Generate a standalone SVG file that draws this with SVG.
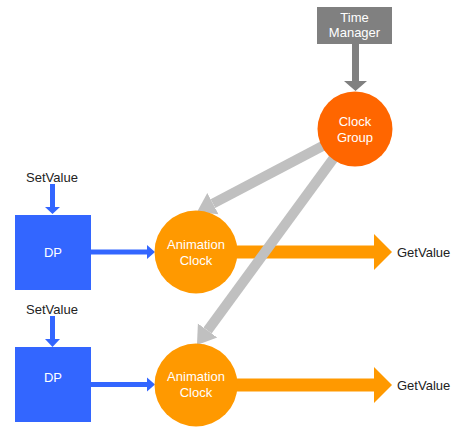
<svg xmlns="http://www.w3.org/2000/svg" width="466" height="430" viewBox="0 0 466 430">
<style>
text{font-family:"Liberation Sans",Arial,sans-serif;font-size:13px;text-anchor:middle}
.w{fill:#ffffff}
.k{fill:#222222}
.gv{text-anchor:start}
.dp{fill:#3366ff}
.ac{fill:#ff9900}
</style>
<defs>
<marker id="gh" markerUnits="userSpaceOnUse" markerWidth="20" markerHeight="26" viewBox="0 -13 20 26" refX="0" refY="0" orient="auto">
<path d="M0,-12 L18,0 L0,12 z" fill="#c0c0c0"/>
</marker>
</defs>
<g id="connectors">
<!-- Time Manager to Clock Group -->
<path d="M352,44 H359 V81 H367 L355.5,91 L344,81 H352 z" fill="#808080"/>
<!-- SetValue arrows -->
<path d="M50,184 H55 V207 H60 L52.5,214 L45,207 H50 z" fill="#3366ff"/>
<path d="M50,316 H55 V339 H60 L52.5,347 L45,339 H50 z" fill="#3366ff"/>
<!-- DP to Animation Clock -->
<path d="M91,249.5 H147 V245 L155,252 L147,259 V254.5 H91 z" fill="#3366ff"/>
<path d="M91,382 H147 V377.5 L155,384.5 L147,391.5 V387 H91 z" fill="#3366ff"/>
<!-- Animation Clock to GetValue -->
<path d="M230,245.5 H374 V234 L392,252 L374,270 V258.5 H230 z" fill="#ff9900"/>
<path d="M230,378.5 H374 V367 L392,385 L374,403 V391.5 H230 z" fill="#ff9900"/>
<!-- Clock Group to Animation Clocks -->
<line x1="355" y1="129" x2="212.9" y2="203.6" stroke="#c0c0c0" stroke-width="10" marker-end="url(#gh)"/>
<line x1="355" y1="129" x2="207.6" y2="330.5" stroke="#c0c0c0" stroke-width="10" marker-end="url(#gh)"/>
</g>
<g id="time-manager">
<rect x="317" y="7" width="75" height="37" fill="#808080"/>
<text class="w" x="354.5" y="21.5">Time</text>
<text class="w" x="354.5" y="37">Manager</text>
</g>
<g id="clock-group">
<circle cx="355" cy="129" r="37.5" fill="#ff6600"/>
<text class="w" x="355" y="125.5">Clock</text>
<text class="w" x="355" y="141.5">Group</text>
</g>
<g id="setvalue-1"><text class="k" x="52" y="181.5">SetValue</text></g>
<g id="setvalue-2"><text class="k" x="52" y="313.5">SetValue</text></g>
<g id="dp-1">
<rect class="dp" x="15" y="215" width="76" height="75"/>
<text class="w" x="53" y="256.5">DP</text>
</g>
<g id="dp-2">
<rect class="dp" x="15" y="347" width="76" height="75"/>
<text class="w" x="53" y="382">DP</text>
</g>
<g id="animation-clock-1">
<circle class="ac" cx="196" cy="252" r="41.5"/>
<text class="w" x="196" y="248.5">Animation</text>
<text class="w" x="196" y="264.5">Clock</text>
</g>
<g id="animation-clock-2">
<circle class="ac" cx="196" cy="385" r="41.5"/>
<text class="w" x="196" y="381">Animation</text>
<text class="w" x="196" y="397">Clock</text>
</g>
<g id="getvalue-1"><text class="k gv" x="397" y="256.5">GetValue</text></g>
<g id="getvalue-2"><text class="k gv" x="397" y="389.5">GetValue</text></g>
</svg>
